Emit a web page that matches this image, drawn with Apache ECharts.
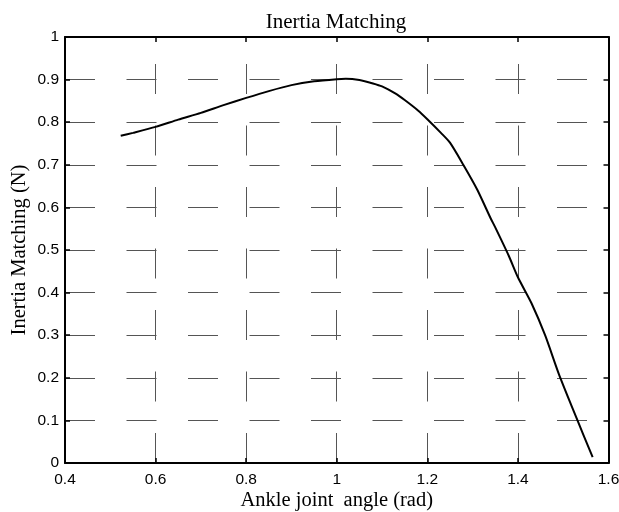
<!DOCTYPE html>
<html>
<head>
<meta charset="utf-8">
<script src="https://cdn.jsdelivr.net/npm/echarts@6/dist/echarts.min.js"></script>
<style>
  html, body { margin: 0; padding: 0; background: #fff; }
  #chart { width: 619px; height: 512px; }
</style>
</head>
<body>
<div id="chart"></div>
<script>
// values
var angle = [0.523, 0.55, 0.60, 0.65, 0.70, 0.75, 0.80, 0.85, 0.90, 0.95, 1.00, 1.02, 1.05, 1.08, 1.10, 1.13, 1.15, 1.18, 1.20, 1.23, 1.25, 1.28, 1.31, 1.34, 1.35, 1.38, 1.40, 1.43, 1.46, 1.49, 1.52, 1.545, 1.565];
var inertia = [0.768, 0.775, 0.789, 0.806, 0.822, 0.840, 0.857, 0.873, 0.887, 0.896, 0.901, 0.902, 0.899, 0.891, 0.884, 0.867, 0.852, 0.827, 0.807, 0.775, 0.752, 0.699, 0.642, 0.574, 0.553, 0.486, 0.436, 0.375, 0.300, 0.210, 0.130, 0.065, 0.014];
var xTicks = [0.4, 1.6, 0.2];   // min, max, step
var yTicks = [0, 1, 0.1];

var points = angle.map(function (a, i) { return [a, inertia[i]]; });

var serif = "'Liberation Serif', 'Times New Roman', serif";
var sans = "'Liberation Sans', Arial, sans-serif";

var chart = echarts.init(document.getElementById('chart'));

// shared axis bits (MATLAB look: black frame, inward ticks, dashed grid)
function frameAxis(extra) {
  var base = {
    type: 'value',
    axisLine: { show: true, onZero: false, lineStyle: { color: '#000', width: 2 } },
    axisTick: { show: true, inside: true, length: 5, lineStyle: { color: '#000', width: 1.5 } },
    axisLabel: { show: false },
    splitLine: { show: false }
  };
  return Object.assign(base, extra);
}

chart.setOption({
  animation: false,
  backgroundColor: '#fff',
  title: {
    text: 'Inertia Matching',
    left: 331,
    top: 7,
    textAlign: 'center',
    textStyle: { fontFamily: serif, fontSize: 21, fontWeight: 'normal', color: '#000' }
  },
  grid: { left: 65, top: 37, right: 10.5, bottom: 49, containLabel: false, outerBoundsMode: 'none' },
  xAxis: [
    frameAxis({
      position: 'bottom',
      min: xTicks[0], max: xTicks[1], interval: xTicks[2],
      name: 'Ankle joint  angle (rad)',
      nameLocation: 'middle',
      nameGap: 27,
      nameMoveOverlap: false,
      nameTextStyle: { fontFamily: serif, fontSize: 20.5, color: '#000', verticalAlign: 'top' },
      axisLabel: { show: true, margin: 9, fontFamily: sans, fontSize: 15.5, color: '#000' },
      splitLine: { show: true, lineStyle: { color: '#555', width: 1, type: [30, 31.5], dashOffset: 34.5 } }
    }),
    frameAxis({ position: 'top', min: xTicks[0], max: xTicks[1], interval: xTicks[2] })
  ],
  yAxis: [
    frameAxis({
      position: 'left',
      min: yTicks[0], max: yTicks[1], interval: yTicks[2],
      name: 'Inertia Matching (N)',
      nameLocation: 'middle',
      nameGap: 35,
      nameMoveOverlap: false,
      nameTextStyle: { fontFamily: serif, fontSize: 20.5, color: '#000' },
      axisLabel: { show: true, margin: 6, fontFamily: sans, fontSize: 15.5, color: '#000' },
      splitLine: { show: true, lineStyle: { color: '#555', width: 1, type: [30, 31.5], dashOffset: 0 } }
    }),
    frameAxis({ position: 'right', min: yTicks[0], max: yTicks[1], interval: yTicks[2] })
  ],
  series: [
    {
      name: 'Inertia Matching',
      type: 'line',
      xAxisIndex: 0,
      yAxisIndex: 0,
      data: points,
      showSymbol: false,
      smooth: 0.25,
      lineStyle: { color: '#000', width: 2 }
    }
  ]
});
</script>
</body>
</html>
